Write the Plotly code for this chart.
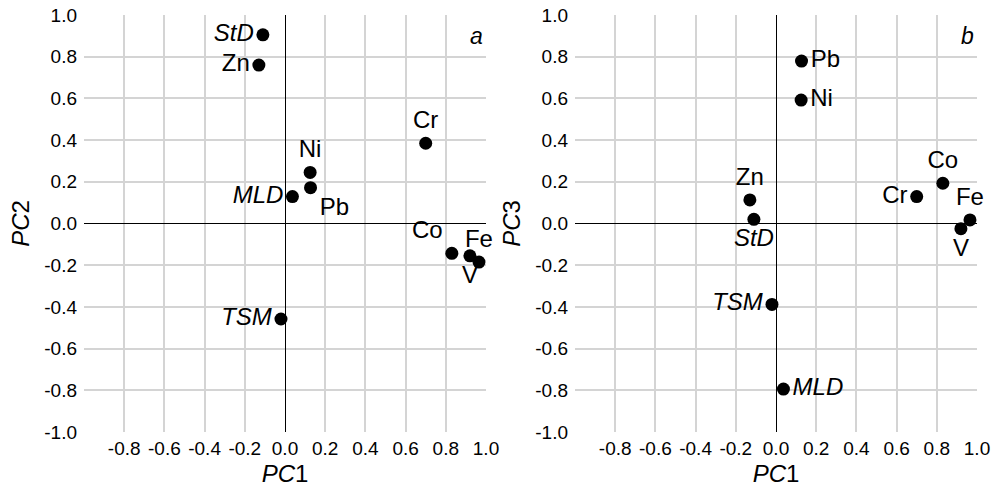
import plotly.graph_objects as go
from plotly.subplots import make_subplots

variables = ["StD", "Zn", "Cr", "Ni", "Pb", "MLD", "Co", "Fe", "V", "TSM"]
display = ["<i>StD</i>", "Zn", "Cr", "Ni", "Pb", "<i>MLD</i>", "Co", "Fe", "V", "<i>TSM</i>"]
pc1 = [-0.11, -0.13, 0.70, 0.125, 0.127, 0.037, 0.83, 0.965, 0.92, -0.02]
pc2 = [0.905, 0.76, 0.385, 0.245, 0.172, 0.129, -0.143, -0.185, -0.155, -0.458]
pc3 = [0.020, 0.113, 0.129, 0.592, 0.779, -0.794, 0.193, 0.017, -0.025, -0.388]

pos_a = ["middle left", "middle left", "top center", "top center", "bottom right",
         "middle left", "top left", "top center", "bottom center", "middle left"]
pos_b = ["bottom center", "top center", "middle left", "middle right", "middle right",
         "middle right", "top center", "top center", "bottom center", "middle left"]

tick_vals = [-1.0, -0.8, -0.6, -0.4, -0.2, 0.0, 0.2, 0.4, 0.6, 0.8, 1.0]
x_tick_text = [""] + [f"{v:.1f}" for v in tick_vals[1:]]
y_tick_text = [f"{v:.1f}" for v in tick_vals]

FONT = "Liberation Sans, Arial, sans-serif"
W, H = 996, 487
ML, MR, MT, MB = 84, 19, 15, 55
PW = W - ML - MR

fig = make_subplots(rows=1, cols=2)

fig.add_trace(go.Scatter(
    x=pc1, y=pc2, mode="markers+text", text=display, textposition=pos_a,
    marker=dict(color="black", size=13),
    textfont=dict(family=FONT, size=24, color="black"),
    cliponaxis=False, showlegend=False), row=1, col=1)

fig.add_trace(go.Scatter(
    x=pc1, y=pc3, mode="markers+text", text=display, textposition=pos_b,
    marker=dict(color="black", size=13),
    textfont=dict(family=FONT, size=24, color="black"),
    cliponaxis=False, showlegend=False), row=1, col=2)

axis_common = dict(
    range=[-1.0, 1.0], tickvals=tick_vals, showgrid=True, gridcolor="#d4d4d4", gridwidth=1.5,
    zeroline=True, zerolinecolor="black", zerolinewidth=1.2, showline=False, ticks="",
    tickfont=dict(family=FONT, size=19, color="black"), automargin=False,
    ticklabeloverflow="allow",
)

TF = dict(family=FONT, size=24, color="black")
fig.update_xaxes(**axis_common, ticktext=x_tick_text, ticklabelstandoff=3,
                 title=dict(text="<i>PC</i>1", font=TF, standoff=7))
fig.update_yaxes(**axis_common, ticktext=y_tick_text, ticklabelstandoff=6)
fig.update_yaxes(title=dict(text="<i>PC</i>2", font=TF, standoff=7), row=1, col=1)
fig.update_yaxes(title=dict(text="<i>PC</i>3", font=TF, standoff=7), row=1, col=2)

fig.update_layout(
    width=W, height=H,
    margin=dict(l=ML, r=MR, t=MT, b=MB),
    paper_bgcolor="white", plot_bgcolor="white",
    xaxis=dict(domain=[0, (486 - ML) / PW]),
    xaxis2=dict(domain=[(575 - ML) / PW, 1]),
    yaxis=dict(domain=[0, 1]),
    yaxis2=dict(domain=[0, 1]),
    annotations=[
        dict(text="<i>a</i>", xref="x domain", yref="y domain", x=0.997, y=0.95,
             showarrow=False, xanchor="right", yanchor="middle",
             font=dict(family=FONT, size=23, color="black")),
        dict(text="<i>b</i>", xref="x2 domain", yref="y2 domain", x=0.997, y=0.95,
             showarrow=False, xanchor="right", yanchor="middle",
             font=dict(family=FONT, size=23, color="black")),
    ],
)

fig.write_html("out.html", config={"displayModeBar": False},
               post_script="document.body.style.margin='0';")
